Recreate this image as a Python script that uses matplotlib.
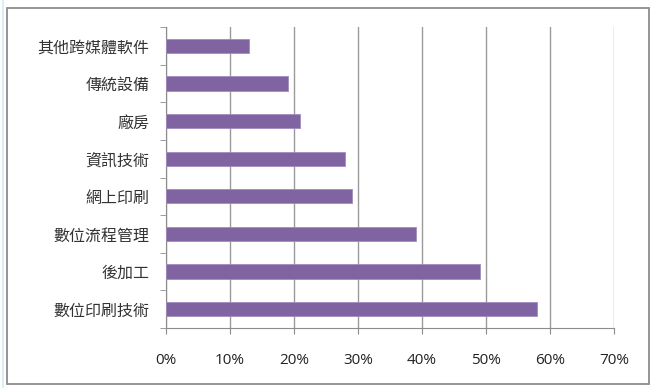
import matplotlib.pyplot as plt
from matplotlib.patches import Rectangle
from matplotlib.ticker import FuncFormatter

# data (bottom to top)
categories = ["數位印刷技術", "後加工", "數位流程管理", "網上印刷",
              "資訊技術", "廠房", "傳統設備", "其他跨媒體軟件"]
values = [58, 49, 39, 29, 28, 21, 19, 13]
xticks = [0, 10, 20, 30, 40, 50, 60, 70]

W, H = 654, 388
fig = plt.figure(figsize=(W / 100, H / 100), dpi=100)

# outer chart frame + thin blue edge on the left (behind the axes)
fig.patches.append(Rectangle((2 / W, 0), 1.5 / W, 1, transform=fig.transFigure,
                             facecolor="#d6eef8", edgecolor="none", zorder=-2))
fig.patches.append(Rectangle((6.5 / W, 1 - 384 / H), (649 - 6.5) / W, (384 - 8) / H,
                             transform=fig.transFigure, facecolor="white",
                             edgecolor="#8c8c8c", linewidth=1.3, zorder=-1))

ax = fig.add_axes([166 / W, 1 - 328 / H, (614 - 166) / W, (328 - 27) / H])
ax.set_facecolor("none")

y = list(range(len(categories)))
ax.barh(y, values, height=0.38, color="#8064A2", edgecolor="#a08cc0",
        linewidth=0.6, zorder=3)

ax.set_xlim(0, 70)
ax.set_ylim(-0.5, len(categories) - 0.5)
ax.set_xticks(xticks)
ax.xaxis.set_major_formatter(FuncFormatter(lambda v, p: f"{v:.0f}%"))
ax.grid(axis="x", color="#9a9a9a", linewidth=1.0, zorder=0)

# category labels, with y tick marks on the boundaries
ax.set_yticks(y)
ax.set_yticklabels(categories, family=["Noto Sans CJK TC", "DejaVu Sans"],
                   fontsize=11.5, color="#333333")
ax.set_yticks([i - 0.5 for i in range(len(categories) + 1)], minor=True)
ax.tick_params(axis="y", which="major", length=0, pad=12)
ax.tick_params(axis="y", which="minor", length=4, color="#8c8c8c")
ax.tick_params(axis="x", length=4, color="#8c8c8c", pad=14,
               labelsize=11, labelcolor="#222222")
for lab in ax.get_xticklabels():
    lab.set_family(["Open Sans", "DejaVu Sans"])

for side in ["top", "right"]:
    ax.spines[side].set_visible(False)
ax.spines["left"].set_color("#8c8c8c")
ax.spines["bottom"].set_color("#8c8c8c")

fig.savefig("out.png", dpi=100)
